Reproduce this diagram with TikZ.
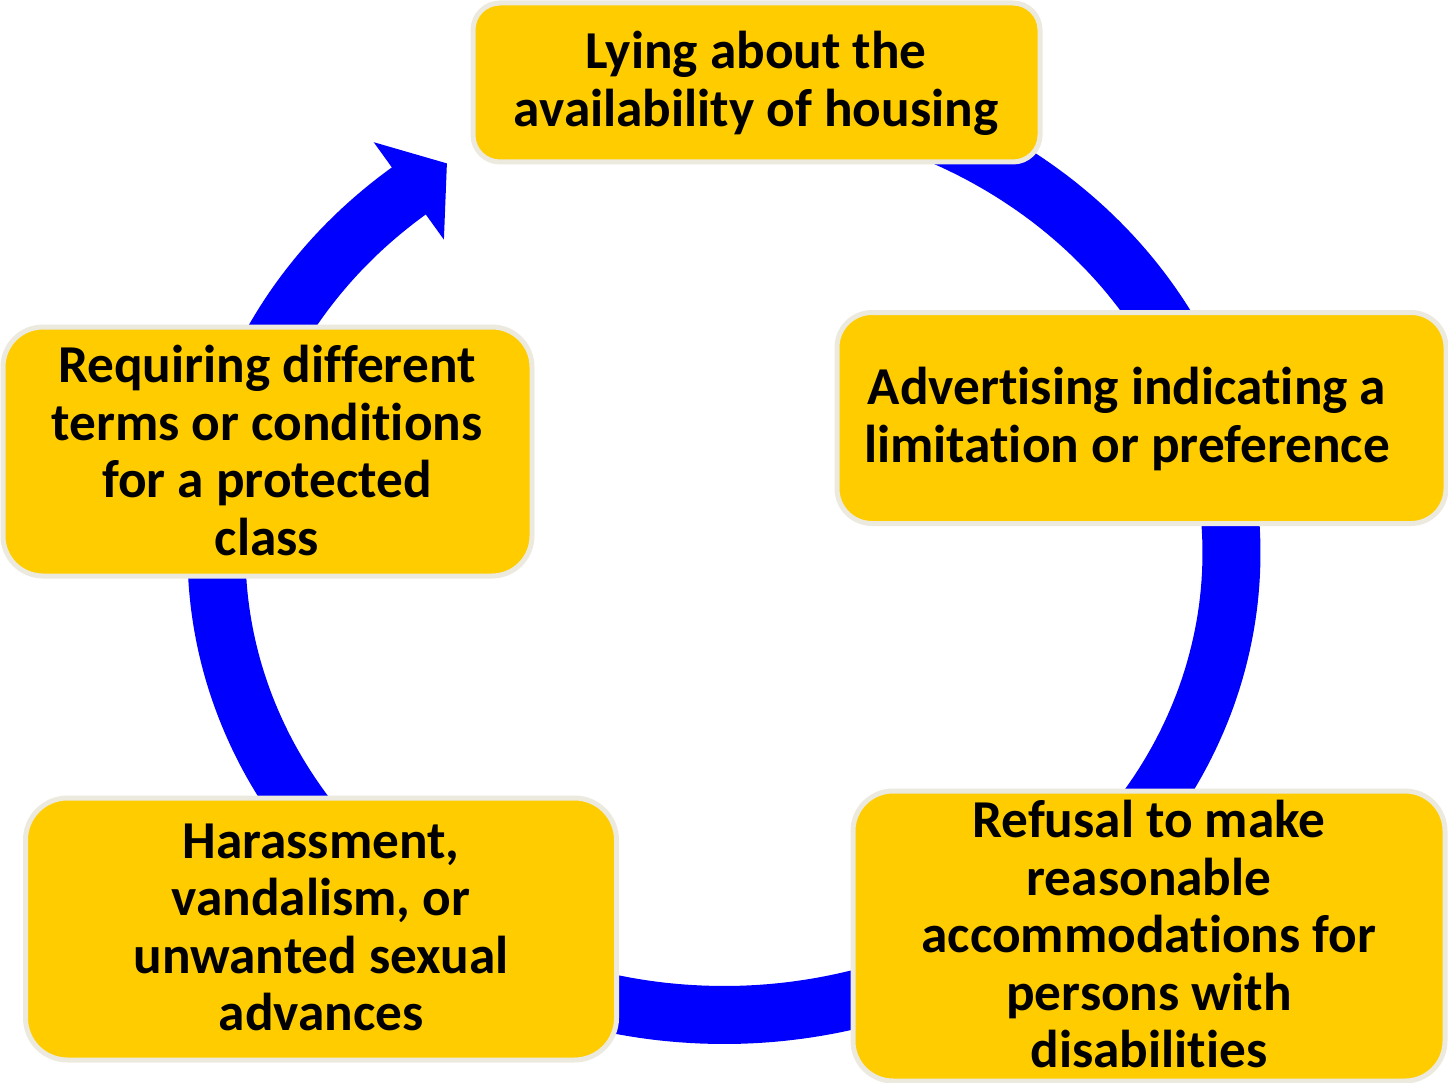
\documentclass[tikz,border=0pt]{standalone}
\usepackage{fontspec}
\setmainfont{Carlito}[Ligatures=NoCommon]
\definecolor{ringblue}{RGB}{0,0,255}
\definecolor{boxfill}{RGB}{255,204,0}
\definecolor{boxedge}{RGB}{236,233,223}
\begin{document}
\begin{tikzpicture}[x=1pt,y=-1pt,
  box/.style={draw=boxedge, line width=5pt, fill=boxfill, rounded corners=#1, inner sep=0pt},
  box/.default=40pt,
  caption/.style={align=center, font=\fontsize{53.3}{57.5}\selectfont\bfseries, text=black, inner sep=0pt},
  ring/.style={draw=ringblue, line width=58pt, line join=round}
]
\useasboundingbox (0,0) rectangle (1448,1083);

% cycle ring: elliptical arc running clockwise, ending in an arrowhead at upper left
\draw[ring] plot[domain=265:593, samples=300] ({724+507.5*cos(\x)},{553+462*sin(\x)});
\fill[ringblue] (373.7,142.2) -- (446.9,163.4) -- (443.9,239.6) -- cycle;

% boxes
\node[box=27pt, minimum width=567pt, minimum height=159pt] (lying) at (756.5,82.5) {};
\node[box=35pt, minimum width=609pt, minimum height=211pt] (advert) at (1141.5,418) {};
\node[box=40pt, minimum width=592pt, minimum height=290pt] (refusal) at (1149,936) {};
\node[box=42pt, minimum width=591pt, minimum height=262pt] (harass) at (321,929) {};
\node[box=40pt, minimum width=529pt, minimum height=249pt] (terms) at (267.5,451.5) {};

% captions
\node[caption] (lyingtext) at (756,83.5) {Lying about the\\availability of housing};
\node[caption] (adverttext) at (1127,419) {Advertising indicating a\\limitation or preference};
\node[caption] (refusaltext) at (1149,934) {Refusal to make\\reasonable\\accommodations for\\persons with\\disabilities};
\node[caption] (harasstext) at (321,927.5) {Harassment,\\vandalism, or\\unwanted sexual\\advances};
\node[caption] (termstext) at (267,450.5) {Requiring different\\terms or conditions\\for a protected\\class};
\end{tikzpicture}
\end{document}
